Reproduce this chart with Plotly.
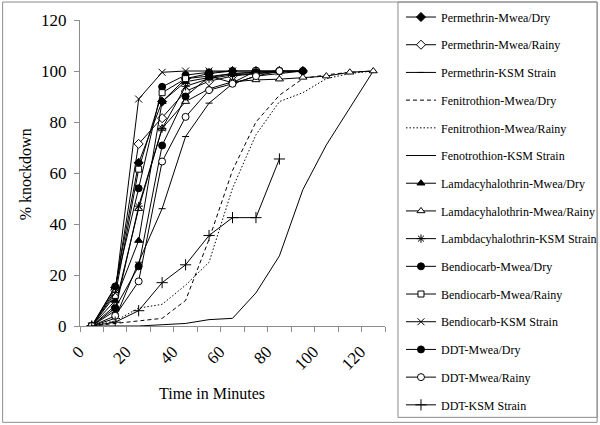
import plotly.graph_objects as go

# ---- data ----
x_all = [5, 15, 25, 35, 45, 55, 65, 75, 85, 95, 105, 115, 125]

names = [
    "Permethrin-Mwea/Dry", "Permethrin-Mwea/Rainy", "Permethrin-KSM Strain",
    "Fenitrothion-Mwea/Dry", "Fenitrothion-Mwea/Rainy", "Fenotrothion-KSM Strain",
    "Lamdacyhalothrin-Mwea/Dry", "Lamdacyhalothrin-Mwea/Rainy", "Lambdacyhalothrin-KSM Strain",
    "Bendiocarb-Mwea/Dry", "Bendiocarb-Mwea/Rainy", "Bendiocarb-KSM Strain",
    "DDT-Mwea/Dry", "DDT-Mwea/Rainy", "DDT-KSM Strain",
]

permethrin_dry = [0, 15, 64, 88, 97, 99, 100, 100, 100, 100]
permethrin_rainy = [0, 14, 71.4, 81.5, 92, 96, 98, 99, 100]
permethrin_ksm = [0, 3, 25, 46, 74.3, 87.4, 95, 98, 99, 100]
fenitrothion_dry = [0, 1, 2, 3, 10, 34, 61, 80, 90.5, 97, 98.5, 99.5, 100]
fenitrothion_rainy = [0, 2, 7, 8.5, 16, 25, 54, 75, 88, 91.5, 97, 99, 100]
fenotrothion_ksm = [0, 0, 0, 0.5, 1, 2.5, 3, 13, 27.5, 53.5, 71, 85.5, 100]
lamda_dry = [0, 10, 33.5, 88, 95.8, 97.5, 99, 99.5, 100, 100]
lamda_rainy = [0, 8, 46, 77.5, 88, 93, 95.8, 96.5, 96.8, 97.5, 98, 99.5, 100]
lambda_ksm = [0, 6, 47, 77.5, 94, 97, 98.5, 99, 99.5, 100]
bendiocarb_dry = [0, 15.5, 54, 93.8, 98.4, 99.5, 100, 100, 100]
bendiocarb_rainy = [0, 12, 61.5, 91.5, 97, 98, 95.4, 100]
bendiocarb_ksm = [0, 13, 89, 99.5, 100, 100, 100]
ddt_dry = [0, 7, 23.4, 70.8, 90, 97.8, 99, 99.5, 100, 100]
ddt_rainy = [0, 4, 17.5, 64.5, 82, 92.5, 95, 98, 100]
ddt_ksm = [0, 1.5, 6, 17, 24, 35.5, 42.5, 42.5, 65.5]

series = [permethrin_dry, permethrin_rainy, permethrin_ksm,
          fenitrothion_dry, fenitrothion_rainy, fenotrothion_ksm,
          lamda_dry, lamda_rainy, lambda_ksm,
          bendiocarb_dry, bendiocarb_rainy, bendiocarb_ksm,
          ddt_dry, ddt_rainy, ddt_ksm]

x_ticks = [0, 20, 40, 60, 80, 100, 120]
y_ticks = [0, 20, 40, 60, 80, 100, 120]

# ---- styles ----
styles = [
    dict(symbol="diamond", color="black", size=7, dash="solid"),
    dict(symbol="diamond", color="white", size=7, dash="solid"),
    dict(symbol="line-ew", color="black", size=5, dash="solid"),
    dict(symbol=None, dash="4px,3px"),
    dict(symbol=None, dash="1.5px,2px"),
    dict(symbol=None, dash="solid"),
    dict(symbol="triangle-up", color="black", size=7, dash="solid"),
    dict(symbol="triangle-up", color="white", size=7, dash="solid"),
    dict(symbol="asterisk-open", color="black", size=7, dash="solid"),
    dict(symbol="circle", color="black", size=7, dash="solid"),
    dict(symbol="square", color="white", size=6, dash="solid"),
    dict(symbol="x-thin-open", color="black", size=7, dash="solid"),
    dict(symbol="circle", color="black", size=7, dash="solid"),
    dict(symbol="circle", color="white", size=7, dash="solid"),
    dict(symbol="cross-thin-open", color="black", size=8, dash="solid"),
]

FONT = "Liberation Serif, Times New Roman, serif"
fig = go.Figure()
for i, (nm, ys, st) in enumerate(zip(names, series, styles)):
    xs = x_all[:len(ys)]
    if st["symbol"] is None:
        mode = "lines"
        marker = None
    else:
        mode = "lines+markers"
        marker = dict(symbol=st["symbol"], color=st["color"], size=st["size"],
                      line=dict(color="black", width=1))
    fig.add_trace(go.Scatter(
        x=xs, y=ys, name=nm, mode=mode, marker=marker,
        line=dict(color="black", width=1, dash=st["dash"]),
        legendgroup=f"g{i}",
    ))

L, R, T, B = 79.5, 385, 20, 326.5
W, H = 600, 425
pw, ph = R - L, B - T

def px2x(p):
    return (p - L) / pw

def py2y(p):
    return (B - p) / ph

fig.update_layout(
    width=W, height=H,
    margin=dict(l=L, r=W - R, t=T, b=H - B, pad=0, autoexpand=False),
    paper_bgcolor="white", plot_bgcolor="white",
    font=dict(family=FONT, color="black"),
    showlegend=True,
    legend=dict(
        x=px2x(401), y=py2y(2.5), xanchor="left", yanchor="top",
        borderwidth=0, bgcolor="rgba(0,0,0,0)",
        font=dict(family=FONT, size=12, color="black"),
        tracegroupgap=8.7, traceorder="grouped", maxheight=600,
    ),
    xaxis=dict(
        range=[0, 130], tickmode="array", tickvals=x_ticks,
        ticks="outside", ticklen=5, tickcolor="#8c8c8c",
        showline=True, linecolor="#8c8c8c", linewidth=1,
        showgrid=False, zeroline=False, tickangle=-45,
        tickfont=dict(family=FONT, size=17, color="black"),
        ticklabelshift=-1, ticklabelstandoff=3,
        minor=dict(tickmode="linear", tick0=0, dtick=10, ticks="outside",
                   ticklen=5, tickcolor="#8c8c8c", showgrid=False),
    ),
    yaxis=dict(
        range=[0, 120], tickmode="array", tickvals=y_ticks,
        ticks="outside", ticklen=5, tickcolor="#8c8c8c",
        showline=True, linecolor="#8c8c8c", linewidth=1,
        showgrid=False, zeroline=False, ticklabelstandoff=4,
        tickfont=dict(family=FONT, size=17, color="black"),
    ),
    annotations=[
        dict(text="Time in Minutes", xref="paper", yref="paper",
             x=px2x(212), y=py2y(394), xanchor="center", yanchor="middle",
             showarrow=False, font=dict(family=FONT, size=16, color="black")),
        dict(text="% knockdown", xref="paper", yref="paper",
             x=px2x(25), y=py2y(175), xanchor="center", yanchor="middle",
             textangle=-90, showarrow=False,
             font=dict(family=FONT, size=16, color="black")),
    ],
    shapes=[
        dict(type="rect", xref="paper", yref="paper",
             x0=px2x(2), x1=px2x(597.5), y0=py2y(2), y1=py2y(423),
             line=dict(color="#8c8c8c", width=1), fillcolor="rgba(0,0,0,0)",
             layer="below"),
        dict(type="rect", xref="paper", yref="paper",
             x0=px2x(398), x1=px2x(597.5), y0=py2y(2), y1=py2y(418),
             line=dict(color="#8c8c8c", width=1), fillcolor="rgba(0,0,0,0)",
             layer="below"),
    ],
)

fig.write_html(
    "out.html",
    config={"displayModeBar": False},
    post_script="document.body.style.margin='0px';document.body.style.overflow='hidden';",
)
